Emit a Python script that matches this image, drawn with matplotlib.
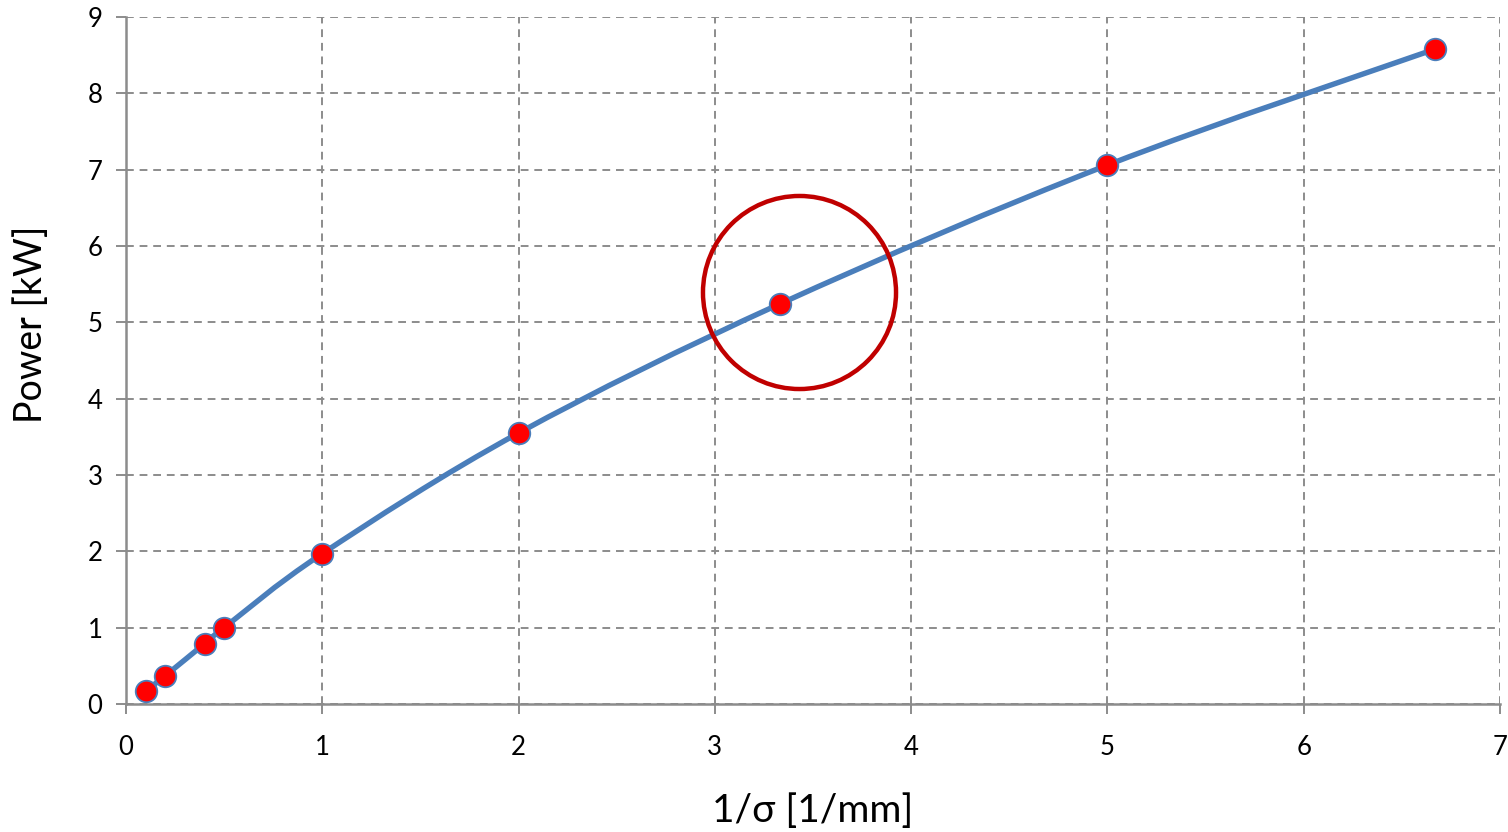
import numpy as np
import matplotlib
matplotlib.use("Agg")
import matplotlib.pyplot as plt
from matplotlib.path import Path
from matplotlib.patches import PathPatch

# data
inv_sigma = [0.1, 0.2, 0.4, 0.5, 1.0, 2.0, 3.33, 5.0, 6.67]
power_kw = [0.17, 0.37, 0.79, 1.0, 1.97, 3.55, 5.24, 7.06, 8.58]
x_ticks = [0, 1, 2, 3, 4, 5, 6, 7]
y_ticks = [0, 1, 2, 3, 4, 5, 6, 7, 8, 9]
highlight_index = 6  # the circled point

plt.rcParams['font.family'] = ['Lato', 'DejaVu Sans']

line_color = '#4a7ebb'
grid_color = '#8c8c8c'


def smooth_path(xs, ys):
    # Excel-style smoothed line: cubic bezier segments through the points
    pts = np.column_stack([xs, ys]).astype(float)
    n = len(pts)
    verts = [pts[0]]
    codes = [Path.MOVETO]
    for i in range(n - 1):
        p0 = pts[i - 1] if i > 0 else pts[i]
        p1 = pts[i]
        p2 = pts[i + 1]
        p3 = pts[i + 2] if i + 2 < n else pts[i + 1]
        c1 = p1 + (p2 - p0) / 6.0
        c2 = p2 - (p3 - p1) / 6.0
        verts += [c1, c2, p2]
        codes += [Path.CURVE4] * 3
    return Path(verts, codes)


fig = plt.figure(figsize=(15.08, 8.32), dpi=100)
ax = fig.add_axes([126 / 1508, 128 / 832, 1374 / 1508, 687 / 832])

ax.add_patch(PathPatch(smooth_path(inv_sigma, power_kw), facecolor='none',
                       edgecolor=line_color, lw=3.9, capstyle='round', zorder=3))
ax.plot(inv_sigma, power_kw, ls='none', marker='o', ms=15.5,
        mfc='#ff0000', mec=line_color, mew=1.3, zorder=4)

# red ring around the highlighted point
ax.plot(inv_sigma[highlight_index] + 0.1, power_kw[highlight_index] + 0.16,
        marker='o', ms=139, mfc='none', mec='#c00000', mew=3.2, zorder=5,
        clip_on=False)

ax.set_xlim(0, 7)
ax.set_ylim(0, 9)
ax.set_xticks(x_ticks)
ax.set_yticks(y_ticks)
ax.grid(True, color=grid_color, ls=(0, (4, 3)), lw=1.4)
ax.set_axisbelow(True)

for s in ['top', 'right']:
    ax.spines[s].set_visible(False)
for s in ['left', 'bottom']:
    ax.spines[s].set_color(grid_color)
    ax.spines[s].set_linewidth(1.8)

ax.tick_params(axis='both', colors=grid_color, labelcolor='black',
               labelsize=18.5, length=7, width=1.4)
ax.tick_params(axis='x', pad=15)
ax.tick_params(axis='y', pad=10)

ax.set_xlabel('1/σ [1/mm]', fontsize=28, labelpad=24)
ax.set_ylabel('Power [kW]', fontsize=27)
ax.yaxis.label.set_va('center')
ax.yaxis.set_label_coords(-0.069, 0.553)

fig.savefig('out.png', dpi=100)
